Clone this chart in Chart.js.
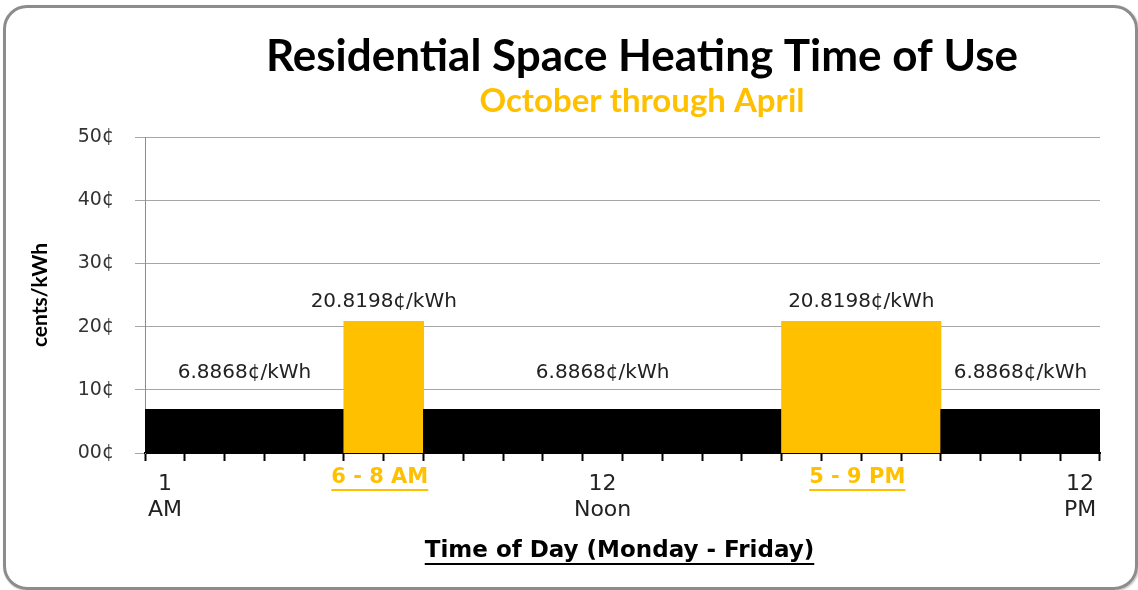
<!DOCTYPE html>
<html>
<head>
<meta charset="utf-8">
<script src="https://cdn.jsdelivr.net/npm/chart.js@4"></script>
<style>
  body { margin: 0; background: #fff; }
  #frame {
    position: absolute; left: 3px; top: 5px; width: 1129px; height: 579px;
    border: 3px solid #8c8c8c; border-radius: 24px;
    box-shadow: 1px 1px 2px rgba(0,0,0,0.25);
  }
  #rateChart { position: absolute; left: 0; top: 0; }
</style>
</head>
<body>
<div id="frame"></div>
<canvas id="rateChart" width="1138" height="590"></canvas>
<script>
// one bar per hour, 1 AM .. 12 PM (midnight)
const hours = ['1 AM','2 AM','3 AM','4 AM','5 AM','6 AM','7 AM','8 AM','9 AM','10 AM','11 AM','12 Noon',
  '1 PM','2 PM','3 PM','4 PM','5 PM','6 PM','7 PM','8 PM','9 PM','10 PM','11 PM','12 PM'];
const offPeak = 6.8868;
const onPeak = 20.8198;
const rates = [6.8868, 6.8868, 6.8868, 6.8868, 6.8868, 20.8198, 20.8198, 6.8868, 6.8868, 6.8868, 6.8868, 6.8868,
  6.8868, 6.8868, 6.8868, 6.8868, 20.8198, 20.8198, 20.8198, 20.8198, 6.8868, 6.8868, 6.8868, 6.8868];
// which hours get a printed tick label
const shownTicks = { 0: ['1', 'AM'], 11: ['12', 'Noon'], 23: ['12', 'PM'] };
// peak windows: first and last bar index
const peakWindows = [
  { from: 5, to: 6, text: '6 - 8 AM' },
  { from: 16, to: 19, text: '5 - 9 PM' }
];
// stretches that get a rate label above them
const rateLabels = [
  { from: 0, to: 4, value: offPeak },
  { from: 5, to: 6, value: onPeak },
  { from: 7, to: 15, value: offPeak },
  { from: 16, to: 19, value: onPeak },
  { from: 20, to: 23, value: offPeak }
];
const yTicks = [0, 10, 20, 30, 40, 50];

const orange = '#FFC000';
const textFont = '"DejaVu Sans", Verdana, sans-serif';

const extraText = {
  id: 'extraText',
  afterDraw(chart) {
    const ctx = chart.ctx;
    const x = chart.scales.x, y = chart.scales.y;
    const half = (x.getPixelForValue(1) - x.getPixelForValue(0)) / 2;
    ctx.save();
    ctx.textAlign = 'center';
    ctx.textBaseline = 'middle';

    // titles, centred a little right of the plot like the original
    const mid = 642;
    ctx.fillStyle = '#000';
    ctx.font = 'bold 44px Lato, sans-serif';
    ctx.fillText('Residential Space Heating Time of Use', mid, 57);
    ctx.fillStyle = orange;
    ctx.font = 'bold 33px Lato, sans-serif';
    ctx.fillText('October through April', mid, 101);

    // rate labels above the bars
    ctx.font = '20px ' + textFont;
    ctx.fillStyle = '#222';
    rateLabels.forEach(r => {
      const cx = (x.getPixelForValue(r.from) + x.getPixelForValue(r.to)) / 2;
      const top = y.getPixelForValue(r.value);
      const lift = r.value > 10 ? 20 : 37;
      ctx.fillText(r.value + '\u00a2/kWh', cx, top - lift);
    });

    // peak window labels under the axis, underlined
    ctx.font = 'bold 21px ' + textFont;
    peakWindows.forEach(p => {
      const cx = (x.getPixelForValue(p.from) - half + x.getPixelForValue(p.to) + half) / 2 - 4;
      const ty = x.top + 25;
      ctx.fillStyle = orange;
      ctx.fillText(p.text, cx, ty);
      const w = ctx.measureText(p.text).width;
      ctx.fillRect(cx - w / 2, ty + 11, w, 2);
    });

    // x axis title, underlined
    const title = 'Time of Day (Monday - Friday)';
    const tx = (chart.chartArea.left + chart.chartArea.right) / 2 - 3;
    const ty = 551;
    ctx.font = 'bold 23px ' + textFont;
    ctx.fillStyle = '#000';
    ctx.fillText(title, tx, ty);
    const tw = ctx.measureText(title).width;
    ctx.fillRect(tx - tw / 2, ty + 12, tw, 2);
    ctx.restore();
  }
};

new Chart(document.getElementById('rateChart').getContext('2d'), {
  type: 'bar',
  data: {
    labels: hours,
    datasets: [{
      data: rates,
      backgroundColor: rates.map(v => v > 10 ? orange : '#000'),
      borderWidth: 0,
      inflateAmount: 0.5,
      barPercentage: 1,
      categoryPercentage: 1
    }]
  },
  options: {
    responsive: false,
    animation: false,
    layout: { padding: { left: 20, right: 38, top: 137, bottom: 0 } },
    plugins: {
      legend: { display: false },
      tooltip: { enabled: false }
    },
    scales: {
      x: {
        grid: { display: true, drawOnChartArea: false, drawTicks: true, tickLength: 8, tickColor: '#000', tickWidth: 2, offset: true },
        border: { color: '#000', width: 2 },
        ticks: {
          autoSkip: false,
          maxRotation: 0,
          padding: 10,
          color: '#222',
          font: { family: textFont, size: 22, lineHeight: 1.2 },
          callback: (v, i) => shownTicks[i] || ''
        },
        afterFit: s => { s.height = 137; }
      },
      y: {
        min: 0,
        max: 50,
        afterBuildTicks: s => { s.ticks = yTicks.map(v => ({ value: v })); },
        grid: { color: '#a6a6a6', lineWidth: 1, tickLength: 10 },
        border: { color: '#8c8c8c', width: 1 },
        ticks: {
          padding: 21,
          color: '#333',
          font: { family: textFont, size: 19 },
          callback: v => (v === 0 ? '00' : v) + '\u00a2'
        },
        title: {
          display: true,
          text: 'cents/kWh',
          color: '#000',
          font: { family: 'Lato, sans-serif', size: 21, weight: 'bold' },
          padding: { top: 8, bottom: 0 }
        },
        afterFit: s => { s.width = 125; }
      }
    }
  },
  plugins: [extraText]
});
</script>
</body>
</html>
